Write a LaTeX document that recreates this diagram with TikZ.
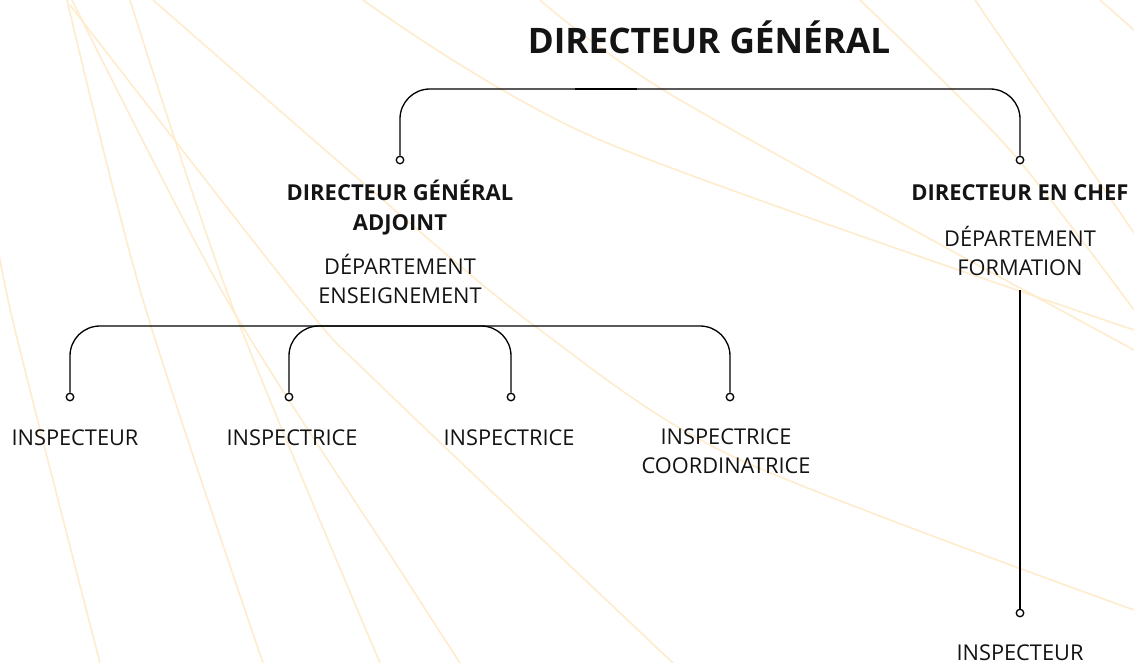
\documentclass[tikz,border=0pt]{standalone}
\usepackage{fontspec}
\setmainfont{Open Sans}
\usetikzlibrary{positioning}
\definecolor{fondligne}{RGB}{254,236,204}
\definecolor{encre}{RGB}{20,20,20}

\begin{document}
\begin{tikzpicture}[x=0.02cm,y=-0.02cm,
  fond/.style={draw=fondligne,line width=0.9pt},
  lien/.style={draw=black,line width=0.75pt,rounded corners=17pt},
  point/.style={circle,draw=black,fill=white,line width=0.75pt,inner sep=0pt,minimum size=0.15cm},
  titre/.style={font=\fontsize{20}{24}\selectfont\bfseries,text=encre},
  chef/.style={font=\fontsize{12.5}{17}\selectfont\bfseries,text=encre,align=center},
  poste/.style={font=\fontsize{12.4}{16.5}\selectfont,text=encre,align=center}]
\useasboundingbox (0,0) rectangle (1134,663);
\fill[white] (0,0) rectangle (1134,663);
% lignes de fond
\begin{scope}
\clip (0,0) rectangle (1134,663);
\draw[fond] plot[smooth] coordinates {(-5,230) (15,330) (100,663)};
\draw[fond] plot[smooth] coordinates {(67,0) (143,300) (263,663)};
\draw[fond] plot[smooth] coordinates {(72,0) (227,300) (400,570) (460,663)};
\draw[fond] plot[smooth] coordinates {(130,0) (230,300) (380,663)};
\draw[fond] plot[smooth] coordinates {(70,5) (300,300) (380,385) (673,663)};
\draw[fond] plot[smooth] coordinates {(153,0) (383,200) (540,330) (734,457) (1134,610)};
\draw[fond] plot[smooth] coordinates {(363,0) (600,140) (1134,330)};
\draw[fond] plot[smooth] coordinates {(540,0) (680,100) (1134,350)};
\draw[fond] plot[smooth] coordinates {(860,0) (1010,150) (1134,310)};
\draw[fond] plot[smooth] coordinates {(975,0) (1134,233)};
\draw[fond] plot[smooth] coordinates {(1100,0) (1134,30)};
\end{scope}

% textes
\node[titre,anchor=base] (dg) at (709,53) {DIRECTEUR GÉNÉRAL};
\node[chef,anchor=base] (dga) at (400,230) {DIRECTEUR GÉNÉRAL\\ADJOINT};
\node[poste,anchor=base] (ens) at (400,303) {DÉPARTEMENT\\ENSEIGNEMENT};
\node[chef,anchor=base] (dec) at (1020,200) {DIRECTEUR EN CHEF};
\node[poste,anchor=base] (form) at (1020,275) {DÉPARTEMENT\\FORMATION};
\node[poste,anchor=base] (insp1) at (75,445) {INSPECTEUR};
\node[poste,anchor=base] (insp2) at (292,445) {INSPECTRICE};
\node[poste,anchor=base] (insp3) at (509,445) {INSPECTRICE};
\node[poste,anchor=base] (insp4) at (726,473) {INSPECTRICE\\COORDINATRICE};
\node[poste,anchor=base] (insp5) at (1020,660) {INSPECTEUR};

% points
\node[point] (pdga) at (400,160) {};
\node[point] (pdec) at (1020,160) {};
\node[point] (p1) at (70,397) {};
\node[point] (p2) at (289,397) {};
\node[point] (p3) at (511,397) {};
\node[point] (p4) at (730,397) {};
\node[point] (p5) at (1020,613) {};
\coordinate (barre) at (709,89);
\coordinate (barre2) at (400,326);

% liens
\draw[lien] (pdga) |- (barre) -| (pdec);
\draw[line width=1.4pt] (575,89) -- (637,89);
\draw[lien] (p1) |- (barre2) -| (p4);
\draw[lien] (p2) |- (barre2);
\draw[lien] (p3) |- (barre2);
\draw[lien,shorten <=5pt] (form) -- (p5);
\end{tikzpicture}
\end{document}
